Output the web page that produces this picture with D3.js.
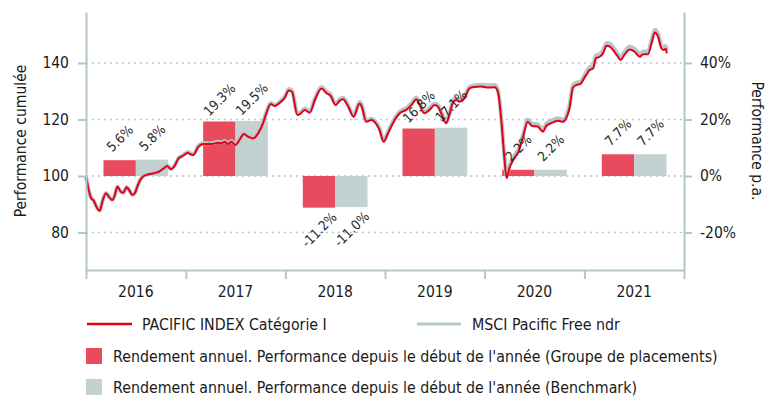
<!DOCTYPE html>
<html>
<head>
<meta charset="utf-8">
<script src="https://cdn.jsdelivr.net/npm/d3@7"></script>
<style>
  html, body { margin: 0; padding: 0; background: #fff; }
  svg { display: block; }
  text { font-family: "DejaVu Sans Condensed", "DejaVu Sans", sans-serif; fill: #1a1a1a; }
</style>
</head>
<body>
<svg id="chart" width="778" height="396"></svg>
<script>
// Cumulative performance (base 100) – fund and benchmark
const dates = [
  "2016-01-01","2016-01-11","2016-01-20","2016-01-29","2016-02-11","2016-02-20","2016-03-01","2016-03-14","2016-03-26","2016-04-07",
  "2016-04-16","2016-04-25","2016-05-08","2016-05-17","2016-05-29","2016-06-07","2016-06-19","2016-06-28","2016-07-07","2016-07-19",
  "2016-07-31","2016-08-18","2016-09-06","2016-09-24","2016-10-12","2016-10-24","2016-11-08","2016-11-20","2016-12-06","2016-12-20",
  "2017-01-09","2017-01-16","2017-01-28","2017-02-15","2017-03-06","2017-04-05","2017-04-29","2017-05-11","2017-05-23","2017-06-05",
  "2017-06-17","2017-07-02","2017-07-18","2017-08-02","2017-08-17","2017-09-04","2017-09-23","2017-10-11","2017-10-23","2017-11-08",
  "2017-11-23","2017-12-11","2017-12-30",
  "2018-01-13","2018-01-25","2018-02-14","2018-02-23","2018-03-13","2018-03-31","2018-04-19","2018-05-13","2018-06-01","2018-06-16",
  "2018-07-04","2018-07-19","2018-07-31","2018-08-18","2018-09-08","2018-09-30","2018-10-08","2018-10-24","2018-11-12","2018-11-30",
  "2018-12-12","2018-12-27",
  "2019-01-12","2019-01-30","2019-02-24","2019-03-20","2019-04-08","2019-04-26","2019-05-08","2019-05-26","2019-06-13","2019-07-02",
  "2019-07-14","2019-07-26","2019-08-13","2019-08-25","2019-09-06","2019-09-19","2019-10-01","2019-10-19","2019-11-07","2019-11-25",
  "2019-12-19",
  "2020-01-13","2020-02-07","2020-02-19","2020-03-03","2020-03-13","2020-03-22","2020-04-01","2020-04-17","2020-05-05","2020-05-23",
  "2020-06-07","2020-06-23","2020-07-13","2020-08-02","2020-08-14","2020-09-01","2020-09-26","2020-10-14","2020-10-26","2020-11-07",
  "2020-11-20","2020-12-02","2020-12-18","2020-12-29",
  "2021-01-08","2021-01-20","2021-02-02","2021-02-12","2021-02-26","2021-03-10","2021-03-23","2021-04-04","2021-04-16","2021-05-01",
  "2021-05-13","2021-05-29","2021-06-16","2021-07-04","2021-07-23","2021-08-04","2021-08-22","2021-09-04","2021-09-16","2021-09-28",
  "2021-10-10","2021-10-18","2021-10-26","2021-10-30"
];

const fundValues = [
  100.0, 95.0, 92.1, 91.3, 88.6, 87.7, 90.9, 93.9, 92.5, 91.5,
  93.3, 96.2, 94.4, 94.1, 96.0, 95.0, 93.3, 93.9, 96.2, 98.8,
  100.0, 100.6, 101.0, 101.5, 102.7, 103.5, 102.4, 103.5, 106.3, 107.1,
  108.2, 107.8, 107.4, 110.2, 111.3, 111.3, 111.8, 111.6, 112.1, 111.3,
  112.1, 111.0, 113.0, 114.9, 113.9, 113.3, 115.1, 118.7, 122.2, 125.5,
  124.8, 125.9, 127.8,
  130.3, 129.8, 121.6, 121.9, 123.4, 122.4, 126.9, 131.0, 129.3, 128.3,
  125.1, 126.7, 127.2, 124.8, 121.0, 125.7, 124.5, 119.2, 119.8, 118.4,
  116.3, 112.1,
  115.1, 118.7, 122.2, 123.4, 125.1, 127.2, 125.1, 122.2, 123.4, 125.1,
  124.5, 122.2, 118.7, 121.6, 125.7, 126.9, 126.3, 127.5, 131.0, 131.5,
  131.7,
  131.3, 131.4, 129.7, 118.9, 107.1, 99.2, 102.8, 106.0, 108.8, 114.5,
  119.2, 117.7, 117.5, 115.7, 117.7, 118.7, 119.6, 119.2, 120.4, 124.0,
  131.3, 132.2, 132.6, 134.3,
  135.8, 137.5, 138.1, 141.7, 142.2, 143.4, 146.1, 145.8, 144.6, 142.6,
  141.1, 143.1, 144.8, 144.0, 142.2, 143.1, 143.1, 147.0, 150.8, 149.3,
  145.2, 144.6, 145.0, 143.4
];

const benchValues = [
  100.0, 95.1, 92.2, 91.4, 88.7, 87.8, 91.0, 94.0, 92.6, 91.6,
  93.4, 96.3, 94.5, 94.2, 96.1, 95.1, 93.4, 94.0, 96.3, 98.9,
  100.1, 100.7, 101.1, 101.6, 102.8, 103.6, 102.5, 103.6, 106.4, 107.2,
  108.5, 108.1, 107.7, 110.5, 111.6, 111.6, 112.1, 111.9, 112.4, 111.6,
  112.4, 111.3, 113.3, 115.2, 114.2, 113.6, 115.4, 119.0, 122.5, 125.8,
  125.1, 126.2, 128.1,
  130.8, 130.3, 122.1, 122.4, 123.9, 122.9, 127.4, 131.5, 129.8, 128.8,
  125.6, 127.2, 127.7, 125.3, 121.5, 126.2, 125.0, 119.7, 120.3, 118.9,
  116.8, 112.6,
  115.7, 119.3, 122.8, 124.0, 125.7, 127.8, 125.7, 122.8, 124.0, 125.7,
  125.1, 122.8, 119.3, 122.2, 126.3, 127.5, 126.9, 128.1, 131.6, 132.1,
  132.3,
  132.1, 132.2, 130.5, 119.7, 107.9, 100.0, 103.6, 106.8, 109.6, 115.3,
  120.0, 118.5, 118.3, 116.5, 118.5, 119.5, 120.4, 120.0, 121.2, 124.8,
  132.1, 133.0, 133.4, 135.1,
  136.8, 138.5, 139.1, 142.7, 143.2, 144.4, 147.1, 146.8, 145.6, 143.6,
  142.1, 144.1, 145.8, 145.0, 143.2, 144.1, 144.1, 148.0, 151.8, 150.3,
  146.2, 145.6, 146.0, 144.4
];

// Calendar-year returns (%)
const years = ["2016", "2017", "2018", "2019", "2020", "2021"];
const fundAnnual = [5.6, 19.3, -11.2, 16.8, 2.2, 7.7];
const benchAnnual = [5.8, 19.5, -11.0, 17.1, 2.2, 7.7];

const leftTicks = [80, 100, 120, 140];
const rightTicks = [-0.2, 0, 0.2, 0.4];

const seriesNames = {
  fund: "PACIFIC INDEX Catégorie I",
  bench: "MSCI Pacific Free ndr",
  fundBar: "Rendement annuel. Performance depuis le début de l'année (Groupe de placements)",
  benchBar: "Rendement annuel. Performance depuis le début de l'année (Benchmark)"
};

const C = {
  fundLine: "#e2001a",
  benchLine: "#b7c7c7",
  fundBar: "#e94b5e",
  benchBar: "#c3d1d1",
  axis: "#b4c7c7",
  grid: "#a9bcbc"
};

const svg = d3.select("#chart");
const plotLeft = 86, plotRight = 684, plotTop = 12, plotBottom = 270;

const parse = d3.utcParse("%Y-%m-%d");
const x = d3.scaleUtc()
  .domain([new Date(Date.UTC(2016, 0, 1)), new Date(Date.UTC(2022, 0, 1))])
  .range([plotLeft, plotRight]);
const y = d3.scaleLinear().domain([66.73, 158.05]).range([plotBottom, plotTop]);
const y2 = d3.scaleLinear().domain([-0.3327, 0.5805]).range([plotBottom, plotTop]);

const xYear = d3.scaleBand().domain(years).range([plotLeft, plotRight]).padding(0);
const xSeries = d3.scaleBand().domain(["fund", "bench"])
  .range([0, xYear.bandwidth()]).paddingInner(0).paddingOuter(0.54);

// Gridlines
const grid = svg.append("g");
grid.selectAll("line").data(leftTicks).join("line")
  .attr("x1", plotLeft).attr("x2", plotRight)
  .attr("y1", d => y(d)).attr("y2", d => y(d))
  .attr("stroke", C.grid).attr("stroke-width", 1.6)
  .attr("stroke-dasharray", "1.6,4.4");

// Annual return bars (right axis scale)
const barData = [];
years.forEach((yr, i) => {
  barData.push({ year: yr, key: "fund", v: fundAnnual[i] / 100 });
  barData.push({ year: yr, key: "bench", v: benchAnnual[i] / 100 });
});
svg.append("g").selectAll("rect").data(barData).join("rect")
  .attr("x", d => xYear(d.year) + xSeries(d.key))
  .attr("width", xSeries.bandwidth())
  .attr("y", d => Math.min(y2(d.v), y2(0)))
  .attr("height", d => Math.abs(y2(d.v) - y2(0)))
  .attr("fill", d => d.key === "fund" ? C.fundBar : C.benchBar);

// Cumulative performance lines
const fundSeries = dates.map((d, i) => ({ date: parse(d), v: fundValues[i] }));
const benchSeries = dates.map((d, i) => ({ date: parse(d), v: benchValues[i] }));
const line = d3.line().x(d => x(d.date)).y(d => y(d.v)).curve(d3.curveMonotoneX);

svg.append("path").datum(benchSeries).attr("d", line)
  .attr("fill", "none").attr("stroke", C.benchLine).attr("stroke-width", 4)
  .attr("stroke-linejoin", "round");
svg.append("path").datum(fundSeries).attr("d", line)
  .attr("fill", "none").attr("stroke", C.fundLine).attr("stroke-width", 2)
  .attr("stroke-linejoin", "round");

// Value labels on bars (plain hyphen for negatives)
const fmtPct = v => (v * 100).toFixed(1) + "%";
svg.append("g").selectAll("text").data(barData).join("text")
  .attr("transform", d => {
    const cx = xYear(d.year) + xSeries(d.key) + xSeries.bandwidth() / 2;
    const cy = d.v >= 0 ? y2(d.v) - 22 : y2(d.v) + 22;
    return `translate(${cx},${cy}) rotate(-45)`;
  })
  .attr("text-anchor", "middle")
  .attr("dominant-baseline", "central")
  .style("font-size", "13.5px")
  .style("fill", "#2a2a2a")
  .text(d => fmtPct(d.v));

// Axes
function styleAxis(g) {
  g.select(".domain").attr("stroke", C.axis).attr("stroke-width", 2);
  g.selectAll(".tick line").attr("stroke", C.axis).attr("stroke-width", 2);
  g.selectAll(".tick text").style("font-size", "15.5px").style("fill", "#1a1a1a");
}

svg.append("g").attr("transform", `translate(${plotLeft},0)`)
  .call(d3.axisLeft(y).tickValues(leftTicks).tickSize(8).tickPadding(9).tickSizeOuter(0))
  .call(styleAxis);

svg.append("g").attr("transform", `translate(${plotRight},0)`)
  .call(d3.axisRight(y2).tickValues(rightTicks).tickFormat(d => Math.round(d * 100) + "%")
    .tickSize(8).tickPadding(8).tickSizeOuter(0))
  .call(styleAxis);

const yearBounds = years.map(yr => new Date(Date.UTC(+yr, 0, 1))).concat([new Date(Date.UTC(2022, 0, 1))]);
svg.append("g").attr("transform", `translate(0,${plotBottom})`)
  .call(d3.axisBottom(x).tickValues(yearBounds).tickFormat("").tickSize(9).tickSizeOuter(0))
  .call(styleAxis);

svg.append("g").selectAll("text").data(years).join("text")
  .attr("x", d => xYear(d) + xYear.bandwidth() / 2)
  .attr("y", 297)
  .attr("text-anchor", "middle")
  .style("font-size", "15.5px")
  .text(d => d);

// Axis titles
svg.append("text")
  .attr("transform", `translate(26,${(plotTop + plotBottom) / 2}) rotate(-90)`)
  .attr("text-anchor", "middle")
  .style("font-size", "15.5px")
  .text("Performance cumulée");
svg.append("text")
  .attr("transform", `translate(752,${(plotTop + plotBottom) / 2}) rotate(90)`)
  .attr("text-anchor", "middle")
  .style("font-size", "15.5px")
  .text("Performance p.a.");

// Legend
const lg = svg.append("g");
const lgFont = "15.8px";
lg.append("line").attr("x1", 87).attr("x2", 132).attr("y1", 324).attr("y2", 324)
  .attr("stroke", C.fundLine).attr("stroke-width", 2.5);
lg.append("text").attr("x", 142).attr("y", 324).attr("dominant-baseline", "central")
  .style("font-size", lgFont).text(seriesNames.fund);
lg.append("line").attr("x1", 417).attr("x2", 461).attr("y1", 324).attr("y2", 324)
  .attr("stroke", C.benchLine).attr("stroke-width", 3);
lg.append("text").attr("x", 472).attr("y", 324).attr("dominant-baseline", "central")
  .style("font-size", lgFont).text(seriesNames.bench);

lg.append("rect").attr("x", 86).attr("y", 348).attr("width", 16).attr("height", 16).attr("fill", C.fundBar);
lg.append("text").attr("x", 113).attr("y", 356).attr("dominant-baseline", "central")
  .style("font-size", lgFont).text(seriesNames.fundBar);
lg.append("rect").attr("x", 86).attr("y", 379).attr("width", 16).attr("height", 16).attr("fill", C.benchBar);
lg.append("text").attr("x", 113).attr("y", 387).attr("dominant-baseline", "central")
  .style("font-size", lgFont).text(seriesNames.benchBar);
</script>
</body>
</html>
